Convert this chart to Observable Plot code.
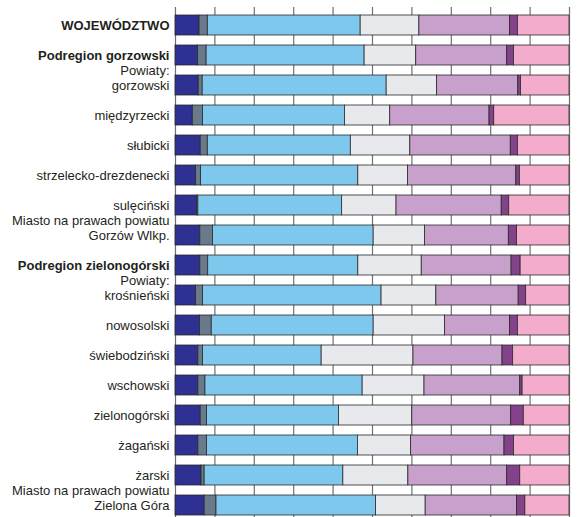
<!DOCTYPE html>
<html>
<head>
<meta charset="utf-8">
<script src="https://cdn.jsdelivr.net/npm/d3@7"></script>
<script src="https://cdn.jsdelivr.net/npm/@observablehq/plot@0.6"></script>
<style>
  html, body { margin: 0; padding: 0; background: #fff; overflow: hidden; }
  svg { display: block; }
</style>
</head>
<body>
<div id="chart"></div>
<script>
// Row labels (top to bottom)
const rows = ["WOJEWÓDZTWO", "Podregion gorzowski", "gorzowski", "międzyrzecki", "słubicki",
  "strzelecko-drezdenecki", "sulęciński", "Gorzów Wlkp.", "Podregion zielonogórski",
  "krośnieński", "nowosolski", "świebodziński", "wschowski", "zielonogórski", "żagański",
  "żarski", "Zielona Góra"];
const boldRows = ["WOJEWÓDZTWO", "Podregion gorzowski", "Podregion zielonogórski"];
// Extra line printed above some labels
const prefixRows = ["gorzowski", "Gorzów Wlkp.", "krośnieński", "Zielona Góra"];
const prefixTexts = ["Powiaty:", "Miasto na prawach powiatu", "Powiaty:", "Miasto na prawach powiatu"];

// Series (percent shares, left to right)
const seriesNames = ["s1", "s2", "s3", "s4", "s5", "s6", "s7"];
const s1 = [6.1, 5.7, 5.9, 4.4, 6.4, 5.2, 5.5, 6.3, 6.3, 5.2, 6.2, 5.8, 5.8, 6.4, 5.8, 6.6, 7.4];
const s2 = [2.1, 2.2, 1.0, 2.6, 1.8, 1.3, 0.3, 3.2, 2.0, 1.8, 3.0, 1.2, 1.8, 1.6, 2.2, 0.8, 3.0];
const s3 = [38.8, 40.1, 46.7, 36.0, 36.3, 39.9, 36.5, 40.8, 38.1, 45.3, 41.1, 30.1, 39.9, 33.5, 38.3, 35.2, 40.5];
const s4 = [14.9, 13.1, 12.8, 11.5, 15.1, 12.6, 13.8, 13.0, 16.1, 13.9, 18.1, 23.3, 15.7, 18.6, 13.5, 16.5, 12.6];
const s5 = [23.0, 23.1, 20.6, 25.2, 25.5, 27.5, 26.7, 21.3, 22.8, 20.9, 16.5, 22.6, 24.3, 25.1, 23.7, 25.1, 23.2];
const s6 = [2.0, 1.7, 0.7, 1.2, 1.8, 0.9, 1.9, 2.1, 2.3, 1.9, 2.0, 2.7, 0.6, 3.2, 2.4, 3.3, 2.1];
const s7 = [13.1, 14.1, 12.3, 19.1, 13.1, 12.6, 15.3, 13.3, 12.4, 11.0, 13.1, 14.3, 11.9, 11.6, 14.1, 12.5, 11.2];
const seriesColors = ["#2e3192", "#687a8b", "#7dc8ec", "#e8e9ed", "#c7a0cb", "#84428b", "#f4accd"];
const xTicks = [0, 10, 20, 30, 40, 50, 60, 70, 80, 90, 100];

const allSeries = [s1, s2, s3, s4, s5, s6, s7];
const data = [];
rows.forEach((r, i) => {
  allSeries.forEach((s, j) => data.push({row: r, series: seriesNames[j], value: s[i]}));
});
const prefixData = prefixRows.map((r, i) => ({row: r, text: prefixTexts[i]}));

const chart = Plot.plot({
  width: 588,
  height: 517,
  marginLeft: 175,
  marginRight: 19,
  marginTop: 7,
  marginBottom: 0,
  style: {fontFamily: "'Liberation Sans', Arial, sans-serif", fontSize: "13px", background: "#fff"},
  x: {domain: [0, 100], axis: null},
  y: {domain: rows, range: [10, 520], paddingInner: 1/3, paddingOuter: 1/6, axis: null},
  color: {domain: seriesNames, range: seriesColors},
  marks: [
    Plot.ruleX(xTicks, {stroke: "#707070", strokeWidth: 1.2}),
    Plot.barX(data, Plot.stackX({x: "value", y: "row", fill: "series", stroke: "#2a2a2a", strokeWidth: 0.8, inset: 0})),
    Plot.text(rows.filter(r => !boldRows.includes(r)), {y: d => d, text: d => d, frameAnchor: "left", textAnchor: "end", dx: -6, fill: "#231f20", fontSize: 13}),
    Plot.text(boldRows, {y: d => d, text: d => d, frameAnchor: "left", textAnchor: "end", dx: -6, fill: "#231f20", fontWeight: "bold", fontSize: 13}),
    Plot.text(prefixData, {y: "row", text: "text", frameAnchor: "left", textAnchor: "end", dx: -6, dy: -15, fill: "#231f20", fontSize: 13})
  ]
});
document.getElementById("chart").appendChild(chart);
</script>
</body>
</html>
